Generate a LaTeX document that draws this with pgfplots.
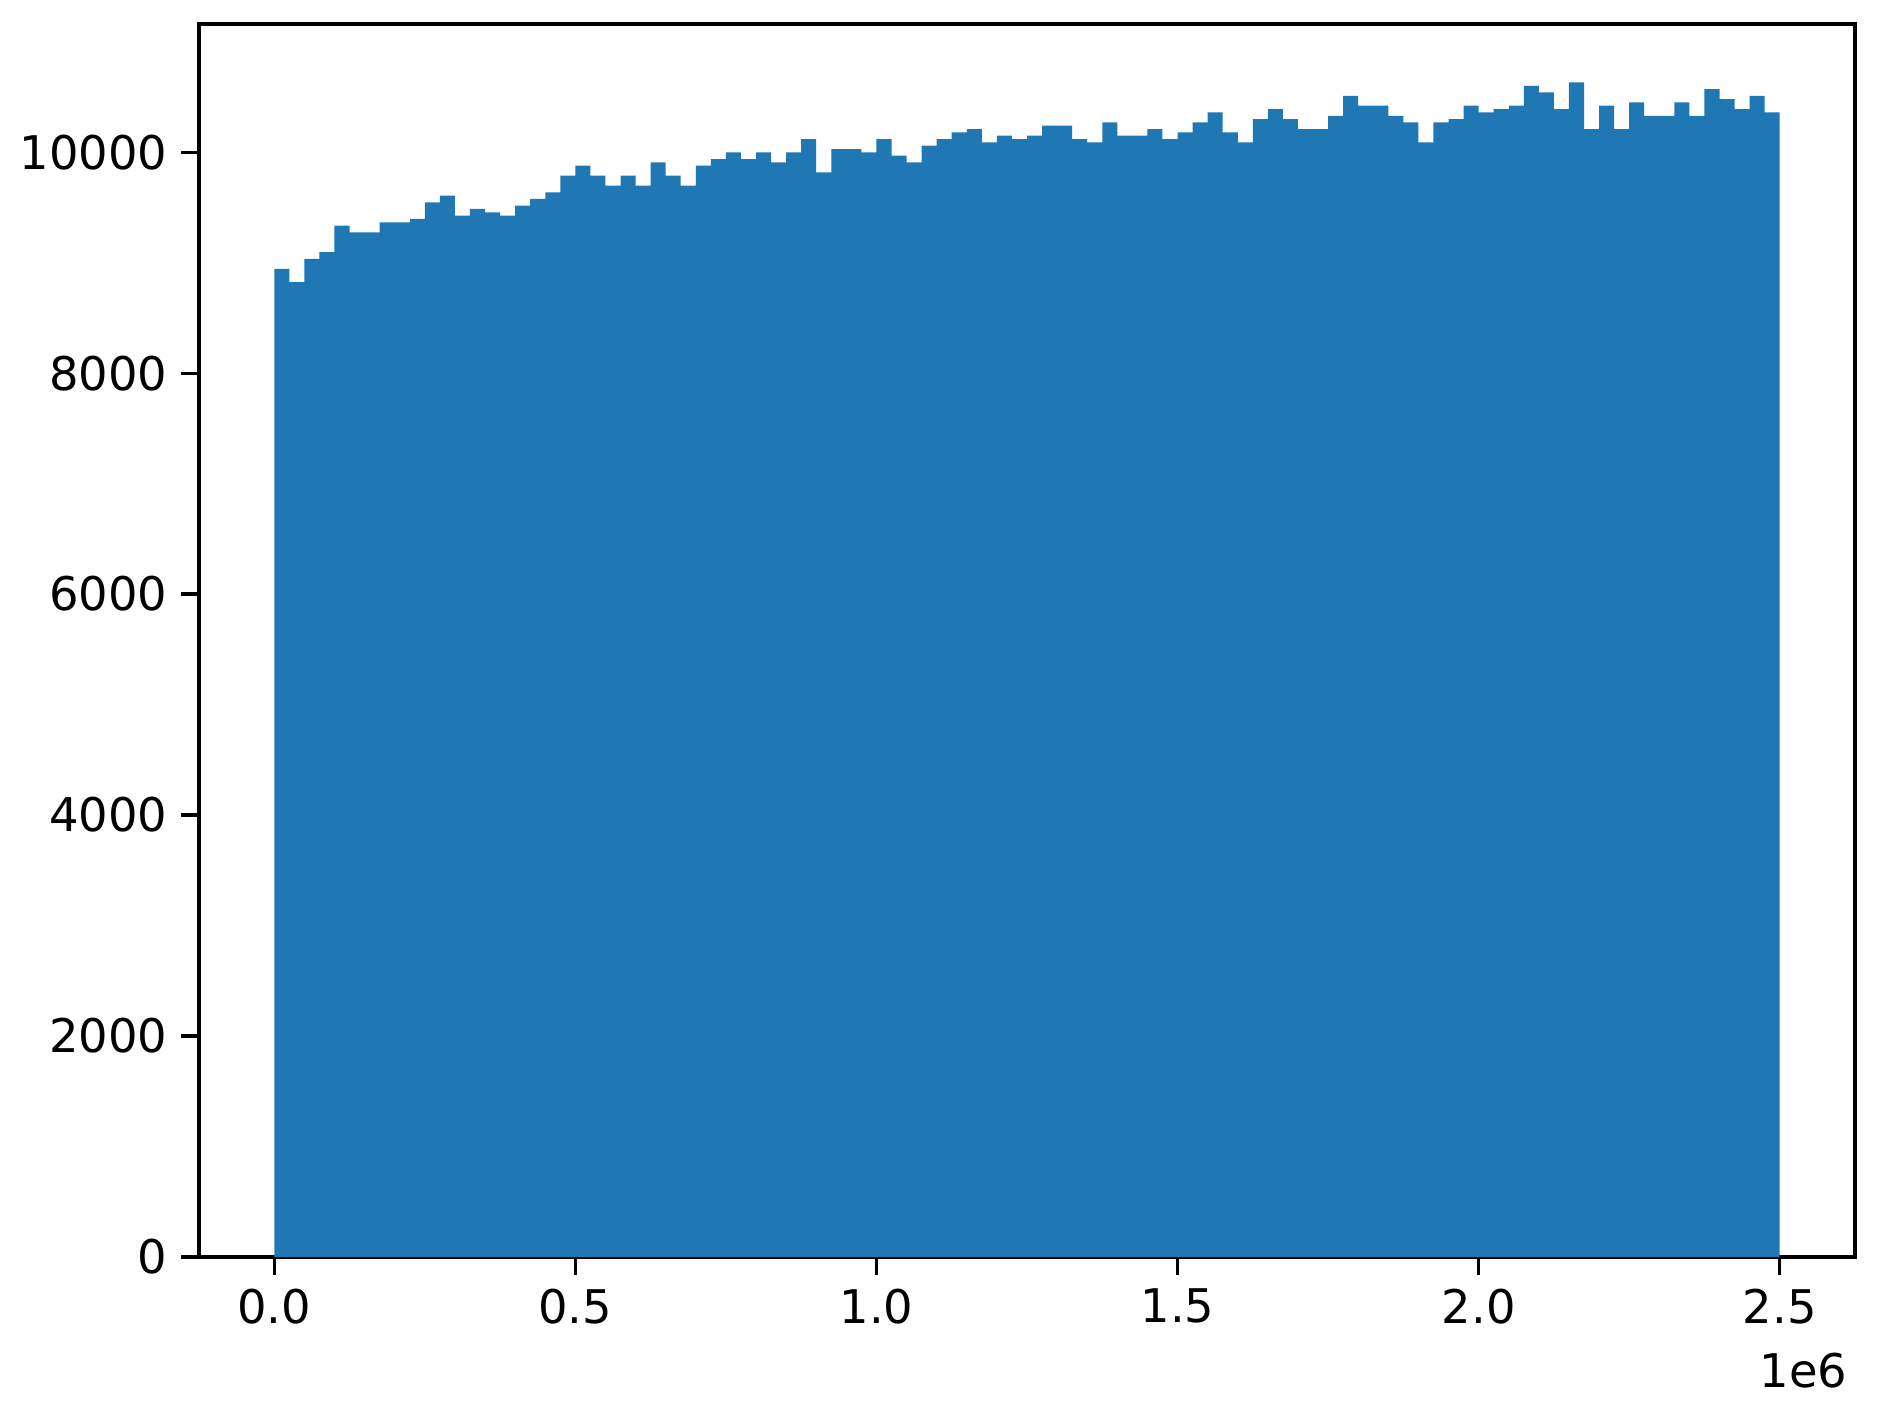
\documentclass[border=0pt]{standalone}
\usepackage{fontspec}
\setmainfont{DejaVu Sans}
\usepackage{pgfplots}
\pgfplotsset{compat=1.18}
\definecolor{tabblue}{HTML}{1F77B4}

% histogram counts, 100 bins of width 0.025e6, left edges
\pgfplotstableread{
x     y
0.000 8944
0.025 8823
0.050 9034
0.075 9094
0.100 9335
0.125 9275
0.150 9275
0.175 9365
0.200 9365
0.225 9396
0.250 9546
0.275 9606
0.300 9426
0.325 9486
0.350 9456
0.375 9426
0.400 9516
0.425 9576
0.450 9636
0.475 9787
0.500 9877
0.525 9787
0.550 9697
0.575 9787
0.600 9697
0.625 9907
0.650 9787
0.675 9697
0.700 9877
0.725 9938
0.750 9998
0.775 9938
0.800 9998
0.825 9907
0.850 9998
0.875 10119
0.900 9817
0.925 10028
0.950 10028
0.975 9998
1.000 10119
1.025 9968
1.050 9907
1.075 10058
1.100 10119
1.125 10179
1.150 10209
1.175 10088
1.200 10149
1.225 10119
1.250 10149
1.275 10239
1.300 10239
1.325 10119
1.350 10088
1.375 10269
1.400 10149
1.425 10149
1.450 10209
1.475 10119
1.500 10179
1.525 10269
1.550 10360
1.575 10179
1.600 10088
1.625 10299
1.650 10390
1.675 10299
1.700 10209
1.725 10209
1.750 10329
1.775 10510
1.800 10420
1.825 10420
1.850 10329
1.875 10269
1.900 10088
1.925 10269
1.950 10299
1.975 10420
2.000 10360
2.025 10390
2.050 10420
2.075 10600
2.100 10540
2.125 10390
2.150 10631
2.175 10209
2.200 10420
2.225 10209
2.250 10450
2.275 10329
2.300 10329
2.325 10450
2.350 10329
2.375 10570
2.400 10480
2.425 10390
2.450 10510
2.475 10360
2.500 10360
}\histdata

\begin{document}
\begin{tikzpicture}
\begin{axis}[
    scale only axis,
    width=414pt, height=308.25pt,
    xmin=-0.125, xmax=2.625,
    ymin=0, ymax=11160,
    xtick={0,0.5,...,2.5},
    ytick={0,2000,...,10000},
    scaled x ticks=false, scaled y ticks=false,
    xticklabel style={/pgf/number format/fixed, /pgf/number format/fixed zerofill,
        /pgf/number format/precision=1},
    yticklabel style={/pgf/number format/fixed, /pgf/number format/1000 sep={}},
    /pgf/number format/assume math mode=true,
    tick label style={font=\fontsize{11.6}{13.5}\selectfont},
    tick align=outside,
    major tick length=4.4pt,
    tick style={black, line width=0.8pt},
    xtick pos=bottom, ytick pos=left,
    axis line style={line width=0.8pt},
    clip=false,
]
\addplot[ybar interval, fill=tabblue, draw=none] table[x=x, y=y] {\histdata};
\node[anchor=north east, inner sep=0pt, font=\fontsize{11.6}{13.5}\selectfont]
    at ([xshift=-1.75pt, yshift=-23.75pt]rel axis cs:1,0) {1e6};
\end{axis}
\path[use as bounding box]
    ([xshift=-49.75pt, yshift=-39.25pt]current axis.south west) rectangle
    ([xshift=7.25pt, yshift=6pt]current axis.north east);
\end{tikzpicture}
\end{document}
